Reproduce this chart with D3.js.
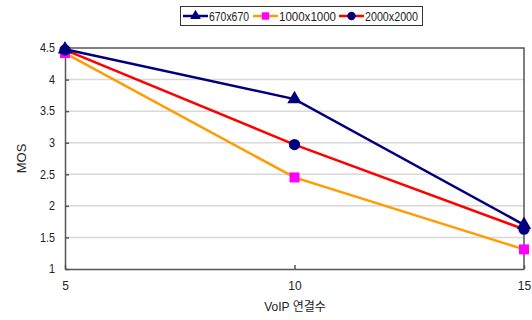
<!DOCTYPE html>
<html><head><meta charset="utf-8">
<script src="https://cdn.jsdelivr.net/npm/d3@7"></script>
<style>body{margin:0;background:#fff}text{font-family:"Liberation Sans","Noto Sans CJK KR",sans-serif}</style>
</head><body><svg id="c" width="532" height="320"></svg>
<script>
const xValues=[5,10,15];
const series670=[4.48,3.69,1.70];
const series1000=[4.42,2.45,1.31];
const series2000=[4.47,2.97,1.63];
const seriesNames=["670x670","1000x1000","2000x2000"];
const yTicks=[1,1.5,2,2.5,3,3.5,4,4.5];

const svg=d3.select("#c");
const L=65,R=524,T=48,B=269;
const x=d3.scaleLinear().domain([5,15]).range([L,R]);
const y=d3.scaleLinear().domain([1,4.5]).range([B,T]);

svg.append("g").selectAll("line").data(yTicks.slice(1,-1)).join("line")
 .attr("x1",L).attr("x2",R).attr("y1",d=>y(d)).attr("y2",d=>y(d))
 .attr("stroke","#d8d8d8").attr("stroke-width",1.5);
svg.append("path").attr("d",`M${L},${T}H${R}V${B}`).attr("fill","none").attr("stroke","#555").attr("stroke-width",1.5);

const ya=svg.append("g").attr("transform",`translate(${L},0)`)
 .call(d3.axisLeft(y).tickValues(yTicks).tickFormat(d3.format("")).tickSizeInner(-4).tickSizeOuter(0).tickPadding(10));
const xa=svg.append("g").attr("transform",`translate(0,${B})`)
 .call(d3.axisBottom(x).tickValues(xValues).tickSizeInner(-4).tickSizeOuter(0).tickPadding(12));
[ya,xa].forEach(a=>{a.select(".domain").attr("stroke","#555").attr("stroke-width",1.5);
 a.selectAll(".tick line").attr("stroke","#555").attr("stroke-width",1.5);
 a.selectAll("text").attr("font-size",12).attr("fill","#222");});
ya.selectAll("text").attr("transform","scale(0.9,1)").attr("x",-11);

svg.append("text").attr("transform",`translate(26,${(T+B)/2}) rotate(-90)`).attr("text-anchor","middle")
 .attr("font-size",13).attr("fill","#222").text("MOS");
svg.append("text").attr("x",295).attr("y",311).attr("text-anchor","middle")
 .attr("font-size",12).attr("fill","#222").text("VoIP 연결수");

const cfg=[
 {vals:series670,line:"#00007f",mark:"#00007f",shape:d3.symbolTriangle,size:90},
 {vals:series1000,line:"#ff9c00",mark:"#ff00ff",shape:d3.symbolSquare,size:100},
 {vals:series2000,line:"#ff0000",mark:"#00007f",shape:d3.symbolCircle,size:100}];
const lg=d3.line().x((d,i)=>x(xValues[i])).y(d=>y(d));
[1,2,0].forEach(k=>{const c=cfg[k];
 svg.append("path").datum(c.vals).attr("d",lg).attr("fill","none").attr("stroke",c.line).attr("stroke-width",2.5);
});
[1,2,0].forEach(k=>{const c=cfg[k];
 svg.append("g").selectAll("path").data(c.vals).join("path")
  .attr("transform",(d,i)=>`translate(${x(xValues[i])},${y(d)})`)
  .attr("d",d3.symbol().type(c.shape).size(c.size)).attr("fill",c.mark);
});

const lgG=svg.append("g");
lgG.append("rect").attr("x",180.5).attr("y",6.5).attr("width",242).attr("height",19).attr("fill","#fff").attr("stroke","#333");
const lx=[183,253,339], tw=[40,57,53];
seriesNames.forEach((n,i)=>{const c=cfg[i];
 lgG.append("line").attr("x1",lx[i]).attr("x2",lx[i]+25).attr("y1",16).attr("y2",16).attr("stroke",c.line).attr("stroke-width",2.5);
 lgG.append("path").attr("transform",`translate(${lx[i]+12.5},16)`).attr("d",d3.symbol().type(c.shape).size(c.size*0.55)).attr("fill",c.mark);
 lgG.append("text").attr("x",lx[i]+26).attr("y",20.5).attr("font-size",12).attr("fill","#222")
  .attr("textLength",tw[i]).attr("lengthAdjust","spacingAndGlyphs").text(n);
});
</script></body></html>
